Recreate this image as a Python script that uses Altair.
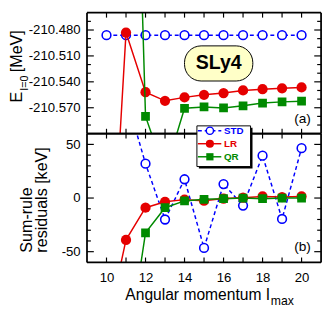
import altair as alt
import pandas as pd

FONT = "Liberation Sans"
BLUE, RED, GREEN = "#0000ff", "#e50000", "#008a00"

# ---------------- data ----------------
x_all = [10, 11, 12, 13, 14, 15, 16, 17, 18, 19, 20]
x_from11 = [11, 12, 13, 14, 15, 16, 17, 18, 19, 20]

# (a) ground-state energy E_{I=0} [MeV]
std_E = [-210.486, -210.486, -210.486, -210.486, -210.486, -210.486,
         -210.486, -210.486, -210.486, -210.486, -210.486]
lr_E = [-210.870, -210.483, -210.552, -210.562, -210.558, -210.555,
        -210.553, -210.550, -210.5485, -210.5475, -210.5465]
qr_E = [-209.815, -210.580, -210.645, -210.5706, -210.5691, -210.5702,
        -210.5677, -210.5646, -210.5632, -210.5624]

# (b) sum-rule residuals [keV]
std_R = [95, 32, -20, 17.5, -46.5, 13, -7, 39.5, -19.5, 46.5]
lr_R = [-123, -39, -9, -3.5, -1.5, -2.5, -0.5, 0.3, 1.5, 0.9, 1.5]
qr_R = [-152, -32.5, -9, -2.7, -1.2, -0.6, 0, -0.6, 0, 0]

# ticks / labels
x_ticks = [10, 11, 12, 13, 14, 15, 16, 17, 18, 19, 20]
x_labels = [10, 12, 14, 16, 18, 20]
ya_major = [-210.57, -210.54, -210.51, -210.48]
ya_minor = [-210.59, -210.58, -210.56, -210.55, -210.53, -210.52,
            -210.50, -210.49, -210.47]
yb_major = [-50, 0, 50]
yb_minor = [-40, -30, -20, -10, 10, 20, 30, 40]

# ---------------- layout ----------------
W, H1, H2 = 240, 124, 132
xs = alt.Scale(domain=[9, 21], nice=False, zero=False)
ys1 = alt.Scale(domain=[-210.6, -210.46], nice=False, zero=False)
ys2 = alt.Scale(domain=[-60, 60], nice=False, zero=False)

one = alt.Data(values=[{"a": 1}])

y_axis_a = alt.Axis(values=ya_major, labelExpr="'-' + format(abs(datum.value), '.3f')",
                    ticks=False, domain=False, grid=False, title=None, labelPadding=7,
                    labelFontSize=13.5, labelFont=FONT, labelColor="black")
y_axis_b = alt.Axis(values=yb_major,
                    labelExpr="(datum.value < 0 ? '-' : '') + format(abs(datum.value), 'd')",
                    ticks=False, domain=False, grid=False, title=None, labelPadding=7,
                    labelFontSize=13.5, labelFont=FONT, labelColor="black")
x_axis_b = alt.Axis(values=x_labels, format="d", ticks=False, domain=False, grid=False,
                    title=None, labelPadding=9, labelFontSize=13.5, labelFont=FONT,
                    labelColor="black")


def series_layers(xv, yv, ys, xaxis, yaxis, kind):
    df = pd.DataFrame({"x": xv, "y": yv})
    enc = dict(x=alt.X("x:Q", scale=xs, axis=xaxis), y=alt.Y("y:Q", scale=ys, axis=yaxis))
    base = alt.Chart(df)
    if kind == "STD":
        line = base.mark_line(color=BLUE, strokeWidth=1.5, strokeDash=[4, 3], clip=True)
        pts = base.mark_point(shape="circle", fill="white", fillOpacity=1, stroke=BLUE,
                              strokeWidth=1.6, size=80, opacity=1, clip=True)
    elif kind == "LR":
        line = base.mark_line(color=RED, strokeWidth=1.5, clip=True)
        pts = base.mark_circle(color=RED, size=110, opacity=1, clip=True)
    else:
        line = base.mark_line(color=GREEN, strokeWidth=1.5, clip=True)
        pts = base.mark_square(color=GREEN, size=80, opacity=1, clip=True)
    return [line.encode(**enc), pts.encode(**enc)]


def frame_layers(H, ys, xaxis, yaxis, ymaj, ymin):
    out = []
    r = alt.Chart(one).mark_rule(color="black", strokeWidth=1.8)
    out.append(r.encode(x=alt.value(0), x2=alt.value(W), y=alt.value(0)))
    out.append(r.encode(x=alt.value(0), x2=alt.value(W), y=alt.value(H)))
    out.append(r.encode(x=alt.value(0), y=alt.value(0), y2=alt.value(H)))
    out.append(r.encode(x=alt.value(W), y=alt.value(0), y2=alt.value(H)))
    xt = alt.Chart(pd.DataFrame({"x": x_ticks})).mark_rule(color="black", strokeWidth=1.2)
    xe = alt.X("x:Q", scale=xs, axis=xaxis)
    out.append(xt.encode(x=xe, y=alt.value(H), y2=alt.value(H - 5)))
    out.append(xt.encode(x=xe, y=alt.value(0), y2=alt.value(5)))
    for vals, ln in ((ymaj, 7), (ymin, 4)):
        yt = alt.Chart(pd.DataFrame({"y": vals})).mark_rule(color="black", strokeWidth=1.2)
        ye = alt.Y("y:Q", scale=ys, axis=yaxis)
        out.append(yt.encode(y=ye, x=alt.value(0), x2=alt.value(ln)))
        out.append(yt.encode(y=ye, x=alt.value(W - ln), x2=alt.value(W)))
    return out


def text(t, x, y, size=16.5, angle=0, align="left", baseline="alphabetic",
         color="black", weight="normal"):
    kw = dict(text=t, fontSize=size, font=FONT, align=align, baseline=baseline,
              color=color, fontWeight=weight)
    if angle:
        kw["angle"] = angle
    return alt.Chart(one).mark_text(**kw).encode(x=alt.value(x), y=alt.value(y))


# ---------------- top panel (a) ----------------
top_layers = [alt.Chart(one).mark_rect(opacity=0).encode(
    x=alt.value(-81), x2=alt.value(W + 3), y=alt.value(-1), y2=alt.value(H1))]
top_layers += series_layers(x_all, std_E, ys1, None, y_axis_a, "STD")
top_layers += series_layers(x_all, lr_E, ys1, None, y_axis_a, "LR")
top_layers += series_layers(x_from11, qr_E, ys1, None, y_axis_a, "QR")
top_layers += frame_layers(H1, ys1, None, y_axis_a, ya_major, ya_minor)
top_layers += [
    alt.Chart(one).mark_rect(fill="#ffffc8", stroke="black", strokeWidth=1,
                             cornerRadius=17).encode(
        x=alt.value(100), x2=alt.value(170), y=alt.value(34), y2=alt.value(70)),
    text("SLy4", 135, 52, size=20, align="center", baseline="middle", weight="bold"),
    text("(a)", 221, 109, size=14, align="center", baseline="middle"),
    text("E", -67, 92, angle=270),
    text("I=0", -60.5, 80, size=11, angle=270),
    text("[MeV]", -67, 61, angle=270),
]
top = alt.layer(*top_layers).properties(width=W, height=H1)

# ---------------- bottom panel (b) ----------------
bot_layers = [alt.Chart(one).mark_rect(opacity=0).encode(
    x=alt.value(-81), x2=alt.value(W + 3), y=alt.value(0), y2=alt.value(H2 + 46))]
bot_layers += series_layers(x_from11, std_R, ys2, x_axis_b, y_axis_b, "STD")
bot_layers += series_layers(x_all, lr_R, ys2, x_axis_b, y_axis_b, "LR")
bot_layers += series_layers(x_from11, qr_R, ys2, x_axis_b, y_axis_b, "QR")
bot_layers += frame_layers(H2, ys2, x_axis_b, y_axis_b, yb_major, yb_minor)

# legend box
LX1, LX2, LY1, LY2 = 112.7, 167.7, -8, 33.7
rows = {"STD": -3, "LR": 10.3, "QR": 23.7}
bot_layers += [
    alt.Chart(one).mark_rect(fill="black").encode(
        x=alt.value(LX1 + 2), x2=alt.value(LX2 + 2), y=alt.value(LY1 + 2), y2=alt.value(LY2 + 2)),
    alt.Chart(one).mark_rect(fill="white", stroke="black", strokeWidth=1).encode(
        x=alt.value(LX1), x2=alt.value(LX2), y=alt.value(LY1), y2=alt.value(LY2)),
    alt.Chart(one).mark_rule(color=BLUE, strokeWidth=1.5, strokeDash=[4, 3]).encode(
        x=alt.value(LX1 + 1), x2=alt.value(137.7), y=alt.value(rows["STD"])),
    alt.Chart(one).mark_point(shape="circle", fill="white", fillOpacity=1, stroke=BLUE,
                              strokeWidth=1.5, size=55, opacity=1).encode(
        x=alt.value(126), y=alt.value(rows["STD"])),
    alt.Chart(one).mark_rule(color=RED, strokeWidth=1.5).encode(
        x=alt.value(LX1 + 1), x2=alt.value(137.7), y=alt.value(rows["LR"])),
    alt.Chart(one).mark_circle(color=RED, size=70, opacity=1).encode(
        x=alt.value(126), y=alt.value(rows["LR"])),
    alt.Chart(one).mark_rule(color=GREEN, strokeWidth=1.5).encode(
        x=alt.value(LX1 + 1), x2=alt.value(137.7), y=alt.value(rows["QR"])),
    alt.Chart(one).mark_square(color=GREEN, size=55, opacity=1).encode(
        x=alt.value(126), y=alt.value(rows["QR"])),
    text("STD", 140.5, rows["STD"], size=10, baseline="middle", color=BLUE, weight="bold"),
    text("LR", 140.5, rows["LR"], size=10, baseline="middle", color=RED, weight="bold"),
    text("QR", 140.5, rows["QR"], size=10, baseline="middle", color=GREEN, weight="bold"),
    text("(b)", 221, 116, size=14, align="center", baseline="middle"),
    text("Sum-rule", -56, 122, angle=270),
    text("residuals [keV]", -41.5, 122, angle=270),
    text("Angular momentum I", 187.7, 170.5, size=16, align="right"),
    text("max", 188.5, 176, size=12.5),
]
bottom = alt.layer(*bot_layers).properties(width=W, height=H2)

chart = alt.vconcat(top, bottom, spacing=0, bounds="flush").properties(
    padding=0
).configure(font=FONT).configure_view(stroke=None)

chart.save("out.html", embed_options={"renderer": "svg", "actions": False})
